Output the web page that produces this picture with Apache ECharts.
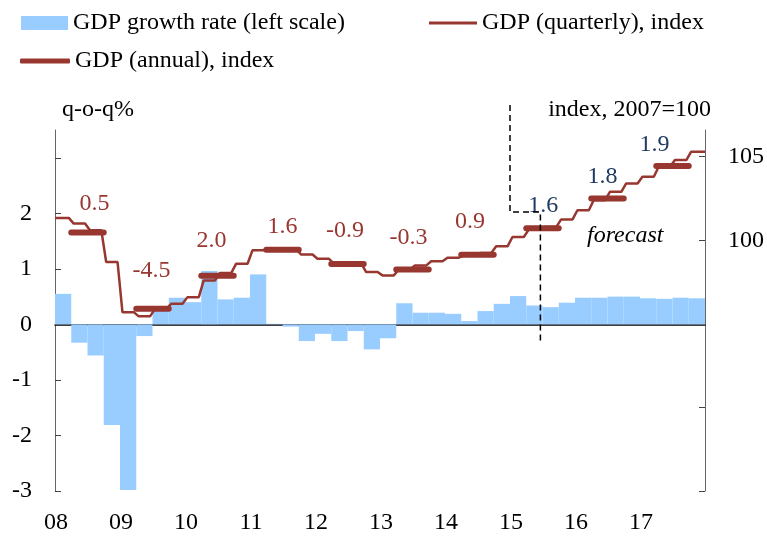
<!DOCTYPE html>
<html>
<head>
<meta charset="utf-8">
<script src="https://cdn.jsdelivr.net/npm/echarts@6/dist/echarts.min.js"></script>
<style>
    html, body { margin: 0; padding: 0; background: #fff; }
    #chart { width: 767px; height: 537px; }
</style>
</head>
<body>
<div id="chart"></div>
<script>
    // quarters 2008Q1 .. 2017Q4
    const quarters = [];
    for (let y = 2008; y <= 2017; y++) {
        for (let q = 1; q <= 4; q++) quarters.push(y + 'Q' + q);
    }
    const yearLabels = ['08', '09', '10', '11', '12', '13', '14', '15', '16', '17'];

    // q-o-q growth, % (left scale)
    const growth = [
        0.55, -0.33, -0.56, -1.81,
        -2.98, -0.21, 0.28, 0.48,
        0.40, 0.96, 0.45, 0.48,
        0.90, 0.01, -0.04, -0.30,
        -0.17, -0.30, -0.12, -0.45,
        -0.25, 0.38, 0.21, 0.21,
        0.19, 0.06, 0.24, 0.37,
        0.51, 0.34, 0.31, 0.39,
        0.48, 0.48, 0.50, 0.50,
        0.47, 0.46, 0.48, 0.47
    ];

    // GDP quarterly index, 2007=100
    const quarterlyIndex = [
        101.34, 101.0, 100.6, 98.7,
        95.7, 95.45, 95.9, 96.2,
        96.6, 97.6, 98.05, 98.6,
        99.4, 99.45, 99.45, 99.15,
        98.9, 98.6, 98.6, 98.1,
        97.9, 98.24, 98.5, 98.75,
        98.96, 99.1, 99.24, 99.64,
        100.2, 100.64, 100.8, 101.25,
        101.8, 102.4, 102.9, 103.4,
        103.8, 104.4, 104.8, 105.3
    ];

    // annual index and annual growth labels
    const annualIndex = [100.46, 95.9, 97.88, 99.44, 98.58, 98.26, 99.14, 100.72, 102.5, 104.45];
    const annualGrowth = ['0.5', '-4.5', '2.0', '1.6', '-0.9', '-0.3', '0.9', '1.6', '1.8', '1.9'];
    const forecastFrom = 7; // 2015 onwards is forecast

    // label nudges (px)
    const labelDx = [7, -1, -6, 0, -2.5, -4, -7.5, 0.7, -5, -18];
    const labelDy = [29, 38, 35, 23, 33, 32, 33, 23, 22, 21];

    const RED = '#983630';
    const NAVY = '#1f3b63';
    const BLUE = '#99ccff';
    const FONT = "'Liberation Serif', 'Times New Roman', serif";

    // step-like quarterly line on the value x axis (0..40)
    let qLine = [];
    quarterlyIndex.forEach((v, i) => {
        qLine.push([i === 0 ? 0 : i + 0.15, v]);
        qLine.push([i === quarterlyIndex.length - 1 ? 40 : i + 0.85, v]);
    });

    let aLine = [];
    annualIndex.forEach((v, i) => {
        aLine.push([i * 4 + 1, v]);
        aLine.push([i * 4 + 3, v]);
        aLine.push([i * 4 + 3.5, '-']);
    });

    let aLabels = annualIndex.map((v, i) => ({
        value: [i * 4 + 2, v],
        label: {
            offset: [labelDx[i], -labelDy[i]],
            color: i >= forecastFrom ? NAVY : RED
        }
    }));

    // forecast marker, in axis units
    const forecastBox = [[28, 108.1], [28, 101.7], [29.87, 101.7], [29.87, 94.0]];

    const legendText = { fontSize: 24, color: '#000', fontFamily: FONT };

    let option = {
        animation: false,
        textStyle: { fontFamily: FONT },
        legend: [
            {
                left: 21, top: 11, padding: 0,
                itemWidth: 47, itemHeight: 14,
                icon: 'rect',
                textStyle: legendText,
                data: ['GDP growth rate (left scale)']
            },
            {
                left: 429, top: 11, padding: 0,
                itemWidth: 48, itemHeight: 3,
                icon: 'rect',
                textStyle: legendText,
                data: ['GDP (quarterly), index']
            },
            {
                left: 20, top: 49, padding: 0,
                itemWidth: 50, itemHeight: 5,
                icon: 'roundRect',
                textStyle: legendText,
                data: ['GDP (annual), index']
            }
        ],
        grid: { left: 55, right: 58, top: 130, bottom: 46 },
        xAxis: [
            {
                type: 'category',
                data: quarters,
                boundaryGap: true,
                axisLine: { onZero: true, lineStyle: { color: '#000', width: 1.5 } },
                axisTick: {
                    inside: true, length: 6,
                    interval: (i) => i % 4 === 0,
                    lineStyle: { color: '#000' }
                },
                axisLabel: { show: false },
                splitLine: { show: false }
            },
            {
                type: 'value',
                min: 0, max: 40, interval: 4,
                position: 'bottom',
                axisLine: { show: false, onZero: false },
                axisTick: { show: false },
                splitLine: { show: false },
                axisLabel: {
                    fontSize: 24, color: '#000', fontFamily: FONT, margin: 20,
                    padding: [0, 0, 0, 2],
                    formatter: (v) => yearLabels[v / 4] || ''
                }
            }
        ],
        yAxis: [
            {
                type: 'value',
                min: -3, max: 3.5, interval: 1,
                name: 'q-o-q%',
                nameLocation: 'end',
                nameGap: 8,
                nameTextStyle: { fontSize: 24, color: '#000', fontFamily: FONT, align: 'left', verticalAlign: 'bottom', padding: [0, 0, 0, 7] },
                axisLine: { show: true, lineStyle: { color: '#666' } },
                axisTick: { show: true, inside: true, length: 6, customValues: [-3, -2, -1, 0, 1, 2, 3], lineStyle: { color: '#444' } },
                axisLabel: {
                    fontSize: 24, color: '#000', fontFamily: FONT, margin: 23,
                    customValues: [-3, -2, -1, 0, 1, 2],
                    formatter: (v) => (v <= 2 && Number.isInteger(v)) ? String(v) : ''
                },
                splitLine: { show: false }
            },
            {
                type: 'value',
                min: 85, max: 106.6, interval: 5,
                position: 'right',
                name: 'index, 2007=100',
                nameLocation: 'end',
                nameGap: 8,
                nameTextStyle: { fontSize: 24, color: '#000', fontFamily: FONT, align: 'right', verticalAlign: 'bottom', padding: [0, -6, 0, 0] },
                axisLine: { show: true, lineStyle: { color: '#666' } },
                axisTick: { show: true, inside: true, length: 6, customValues: [85, 90, 95, 100, 105], lineStyle: { color: '#444' } },
                axisLabel: {
                    fontSize: 24, color: '#000', fontFamily: FONT, margin: 23,
                    customValues: [100, 105],
                    formatter: (v) => (v === 100 || v === 105) ? String(v) : ''
                },
                splitLine: { show: false }
            }
        ],
        graphic: [
            {
                type: 'text',
                left: 587, top: 224,
                style: { text: 'forecast', font: 'italic 24px ' + FONT, fill: '#000' }
            }
        ],
        series: [
            {
                name: 'GDP growth rate (left scale)',
                type: 'bar',
                xAxisIndex: 0, yAxisIndex: 0,
                barWidth: '100%',
                barCategoryGap: '0%',
                itemStyle: { color: BLUE },
                data: growth,
                z: 1
            },
            {
                name: 'GDP (quarterly), index',
                type: 'line',
                xAxisIndex: 1, yAxisIndex: 1,
                symbol: 'none',
                lineStyle: { color: RED, width: 2.5 },
                itemStyle: { color: RED },
                data: qLine,
                z: 3
            },
            {
                name: 'GDP (annual), index',
                type: 'line',
                xAxisIndex: 1, yAxisIndex: 1,
                symbol: 'none',
                connectNulls: false,
                lineStyle: { color: RED, width: 6, cap: 'round' },
                itemStyle: { color: RED },
                data: aLine,
                z: 4
            },
            {
                type: 'scatter',
                xAxisIndex: 1, yAxisIndex: 1,
                symbolSize: 0,
                silent: true,
                itemStyle: { opacity: 1 },
                label: {
                    show: true, position: 'inside', opacity: 1,
                    fontSize: 24, fontFamily: FONT,
                    formatter: (p) => annualGrowth[p.dataIndex]
                },
                data: aLabels,
                z: 5
            },
            {
                type: 'line',
                xAxisIndex: 1, yAxisIndex: 1,
                symbol: 'none',
                clip: false,
                silent: true,
                lineStyle: { color: '#000', width: 1.5, type: [6, 4] },
                data: forecastBox,
                z: 6
            }
        ]
    };

    let chart = echarts.init(document.getElementById('chart'));
    chart.setOption(option);
</script>
</body>
</html>
